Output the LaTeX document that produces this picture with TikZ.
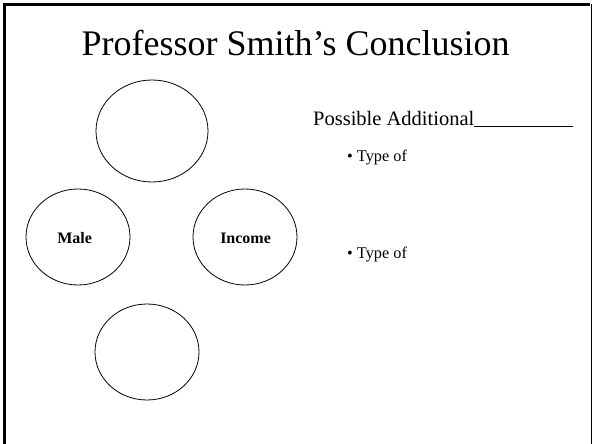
\documentclass[tikz,border=0pt]{standalone}
\usepackage{fontspec}
\setmainfont{Liberation Serif}
\usetikzlibrary{shapes.geometric}
\tikzset{
  oval/.style={draw, ellipse, line width=0.8pt, inner sep=0pt, minimum width=#1},
  ovaltext/.style={font=\fontsize{16}{18}\selectfont\bfseries},
  bullettext/.style={font=\fontsize{16.3}{18}\selectfont, anchor=base west, inner sep=0pt},
}
\begin{document}
\begin{tikzpicture}[x=1pt,y=-1pt]
\useasboundingbox (0,0) rectangle (592,444);
\fill[white] (0,0) rectangle (592,444);
% frame
\draw[line width=2.5pt] (4.5,450) -- (4.5,4.5) -- (590,4.5);
\draw[line width=1pt] (591,4.5) -- (591,450);
% title
\node[font=\fontsize{36}{42}\selectfont, anchor=base west, inner sep=0pt] (title) at (81.5,56) {Professor Smith’s Conclusion};
% circles
\node[oval=112pt, minimum height=102pt] (top) at (152,131) {};
\node[oval=104pt, minimum height=96pt] (male) at (78,237) {};
\node[ovaltext, anchor=base, inner sep=0pt] (maletext) at (74.7,243) {Male};
\node[oval=104pt, minimum height=96pt] (income) at (245,237) {};
\node[ovaltext, anchor=base, inner sep=0pt] (incometext) at (245.6,243) {Income};
\node[oval=104pt, minimum height=96pt] (bottom) at (147,352) {};
% right text
\node[font=\fontsize{20.5}{24}\selectfont, anchor=base west, inner sep=0pt] (poss) at (313,125) {Possible Additional\rule[-1.5pt]{99pt}{0.7pt}};
\node[bullettext] (t1) at (347,161) {• Type of};
\node[bullettext] (t2) at (347,258) {• Type of};
\end{tikzpicture}
\end{document}
